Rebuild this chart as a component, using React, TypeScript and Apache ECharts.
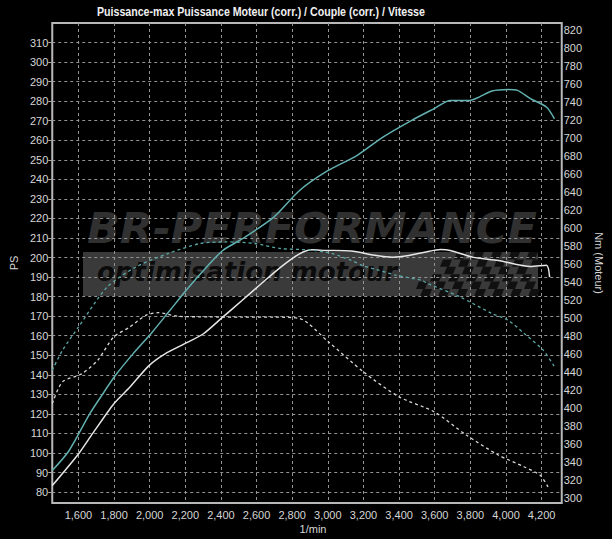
import { useEffect, useRef } from "react";
import * as echarts from "echarts";

// Axis tick values
const rpmTicks = [1600, 1800, 2000, 2200, 2400, 2600, 2800, 3000, 3200, 3400, 3600, 3800, 4000, 4200];
const psTicks = [80, 90, 100, 110, 120, 130, 140, 150, 160, 170, 180, 190, 200, 210, 220, 230, 240, 250, 260, 270, 280, 290, 300, 310];
const nmTicks = [300, 320, 340, 360, 380, 400, 420, 440, 460, 480, 500, 520, 540, 560, 580, 600, 620, 640, 660, 680, 700, 720, 740, 760, 780, 800, 820];

// Tuned power (PS) - cyan solid
const tunedPowerRpm = [1453, 1546, 1663, 1735, 1807, 1906, 2014, 2113, 2212, 2302, 2410, 2518, 2697, 2841, 2986, 3165, 3309, 3471, 3597, 3687, 3795, 3849, 3921, 4011, 4065, 4137, 4227, 4272];
const tunedPowerPs = [91, 101, 120, 130, 139.6, 150.7, 161.8, 172.9, 184, 193.4, 203.6, 209.5, 220.7, 234.3, 243.7, 252.3, 261.6, 270.2, 276.2, 280.4, 280.4, 282.1, 285.2, 286, 285.5, 281.3, 277, 271];

// Stock power (PS) - white solid
const stockPowerRpm = [1453, 1600, 1680, 1798, 1888, 1996, 2086, 2194, 2302, 2410, 2518, 2626, 2734, 2841, 2913, 2986, 3129, 3273, 3363, 3453, 3543, 3633, 3687, 3813, 3957, 4137, 4227, 4245];
const stockPowerPs = [83.3, 99.5, 110, 125.1, 133.6, 144.7, 150.7, 155.8, 161, 169.5, 178, 186.6, 195, 201.9, 204, 203.6, 203.3, 201, 200.2, 201, 202.7, 204.1, 203.6, 200.2, 198.5, 195.4, 196, 190];

// Tuned torque (Nm) - cyan dashed
const tunedTorqueRpm = [1453, 1510, 1600, 1762, 1924, 2104, 2284, 2428, 2589, 2734, 2913, 3021, 3129, 3201, 3273, 3381, 3525, 3561, 3741, 3921, 4011, 4101, 4209, 4272];
const tunedTorqueNm = [442, 464, 490, 534.7, 556.9, 571.8, 582.9, 584.7, 582.9, 577.3, 575.5, 571.8, 564.3, 558, 554, 547.7, 542, 538.4, 523.6, 505, 497.7, 483, 464.3, 445.8];

// Stock torque (Nm) - white dashed
const stockTorqueRpm = [1453, 1510, 1618, 1708, 1798, 1888, 1978, 2050, 2158, 2338, 2518, 2697, 2841, 3003, 3201, 3399, 3597, 3777, 3957, 4101, 4191, 4236];
const stockTorqueNm = [405, 429, 438, 453, 479, 490, 503, 506, 502, 501.3, 501, 501, 499.5, 473.6, 440, 412.4, 395.8, 370, 347.7, 334.7, 325.4, 312.4];

const zip = (xs: number[], ys: number[]) => xs.map((x, i) => [x, ys[i]]);

// Decorative checkered-flag squares of the watermark
function checker() {
  const els: any[] = [];
  const s = 9;
  for (let i = 0; i < 18; i++) {
    for (let j = 0; j < 6; j++) {
      if ((i + j) % 2 !== 0) continue;
      const x = 400 + i * s - j * 5;
      const y = 252 + j * 7.4;
      if (x < 440 - j * 6 || x > 532) continue;
      els.push({
        type: "polygon",
        z: -2,
        silent: true,
        shape: { points: [[x + 3, y], [x + s + 3, y], [x + s, y + 7.4], [x, y + 7.4]] },
        style: { fill: "#101010" },
      });
    }
  }
  return els;
}

export default function App() {
  const ref = useRef<HTMLDivElement>(null);
  useEffect(() => {
    if (!ref.current) return;
    const chart = echarts.init(ref.current, null, { renderer: "svg" });
    const labelColor = "#d6d6d6";
    const gridLine = { show: true, lineStyle: { color: "#939393", type: [3, 3], width: 1 } };
    chart.setOption({
      animation: false,
      backgroundColor: "#000",
      grid: { left: 43, right: 39, top: 23, bottom: 36, show: true, borderColor: "#b8b8b8", borderWidth: 2 },
      xAxis: {
        type: "value",
        min: 1453,
        max: 4313,
        axisLine: { show: false },
        axisTick: { show: false, customValues: rpmTicks },
        axisLabel: {
          customValues: rpmTicks,
          color: labelColor,
          fontSize: 11,
          fontFamily: "Liberation Sans",
          margin: 6,
          formatter: (v: number) => v.toLocaleString("en-US"),
        },
        splitLine: gridLine,
      },
      yAxis: [
        {
          type: "value",
          position: "left",
          min: 74.4,
          max: 320,
          axisLine: { show: false },
          axisTick: { show: true, length: 4, customValues: psTicks, lineStyle: { color: "#aaa" } },
          axisLabel: { customValues: psTicks, color: labelColor, fontSize: 11, fontFamily: "Liberation Sans", margin: 4 },
          splitLine: gridLine,
          name: "PS",
          nameLocation: "middle",
          nameGap: 30,
          nameTextStyle: { color: labelColor, fontSize: 11, fontFamily: "Liberation Sans" },
        },
        {
          type: "value",
          position: "right",
          min: 294.4,
          max: 828,
          axisLine: { show: false },
          axisTick: { show: false, customValues: nmTicks },
          axisLabel: { customValues: nmTicks, color: labelColor, fontSize: 11, fontFamily: "Liberation Sans", margin: 2 },
          splitLine: { show: false },
          name: "Nm (Moteur)",
          nameLocation: "middle",
          nameRotate: -90,
          nameGap: 30,
          nameTextStyle: { color: labelColor, fontSize: 11, fontFamily: "Liberation Sans" },
        },
      ],
      graphic: {
        elements: [
          {
            type: "text",
            silent: true,
            x: 97,
            y: 12,
            scaleX: 0.885,
            style: {
              text: "Puissance-max Puissance Moteur (corr.) / Couple (corr.) / Vitesse",
              fontSize: 12,
              fontWeight: "bold",
              fontFamily: "Liberation Sans",
              fill: "#f0f0f0",
              textVerticalAlign: "middle",
            },
          },
          {
            type: "rect",
            z: -3,
            silent: true,
            shape: { x: 83, y: 252, width: 455, height: 44 },
            style: { fill: "#3a3a3a" },
          },
          ...checker(),
          {
            type: "text",
            z: -1,
            silent: true,
            x: 87,
            y: 228,
            style: {
              text: "BR-PERFORMANCE",
              fontSize: 43,
              fontWeight: "bold",
              fontStyle: "italic",
              fontFamily: "DejaVu Sans",
              fill: "#303030",
              textVerticalAlign: "middle",
            },
          },
          {
            type: "text",
            z: -1,
            silent: true,
            x: 97,
            y: 272,
            style: {
              text: "optimisation motour",
              fontSize: 26,
              fontWeight: "bold",
              fontStyle: "italic",
              fontFamily: "DejaVu Sans",
              fill: "#0b0b0b",
              textVerticalAlign: "middle",
            },
          },
          {
            type: "text",
            silent: true,
            x: 313,
            y: 529,
            style: {
              text: "1/min",
              fontSize: 11,
              fontFamily: "Liberation Sans",
              fill: labelColor,
              textAlign: "center",
              textVerticalAlign: "middle",
            },
          },
        ],
      },
      series: [
        {
          name: "Puissance (tuned)",
          type: "line",
          yAxisIndex: 0,
          data: zip(tunedPowerRpm, tunedPowerPs),
          showSymbol: false,
          smooth: 0.25,
          lineStyle: { color: "#62b0b0", width: 1.5 },
          z: 3,
        },
        {
          name: "Puissance (stock)",
          type: "line",
          yAxisIndex: 0,
          data: zip(stockPowerRpm, stockPowerPs),
          showSymbol: false,
          smooth: 0.25,
          lineStyle: { color: "#e6e6e6", width: 1.5 },
          z: 3,
        },
        {
          name: "Couple (tuned)",
          type: "line",
          yAxisIndex: 1,
          data: zip(tunedTorqueRpm, tunedTorqueNm),
          showSymbol: false,
          smooth: 0.25,
          lineStyle: { color: "#5aa6a6", width: 1.3, type: [3, 3] },
          z: 3,
        },
        {
          name: "Couple (stock)",
          type: "line",
          yAxisIndex: 1,
          data: zip(stockTorqueRpm, stockTorqueNm),
          showSymbol: false,
          smooth: 0.25,
          lineStyle: { color: "#d8d8d8", width: 1.3, type: [3, 3] },
          z: 3,
        },
      ],
    });
    return () => chart.dispose();
  }, []);
  return (
    <div
      ref={ref}
      style={{ position: "absolute", left: 0, top: 0, width: 612, height: 539, background: "#000" }}
    />
  );
}
